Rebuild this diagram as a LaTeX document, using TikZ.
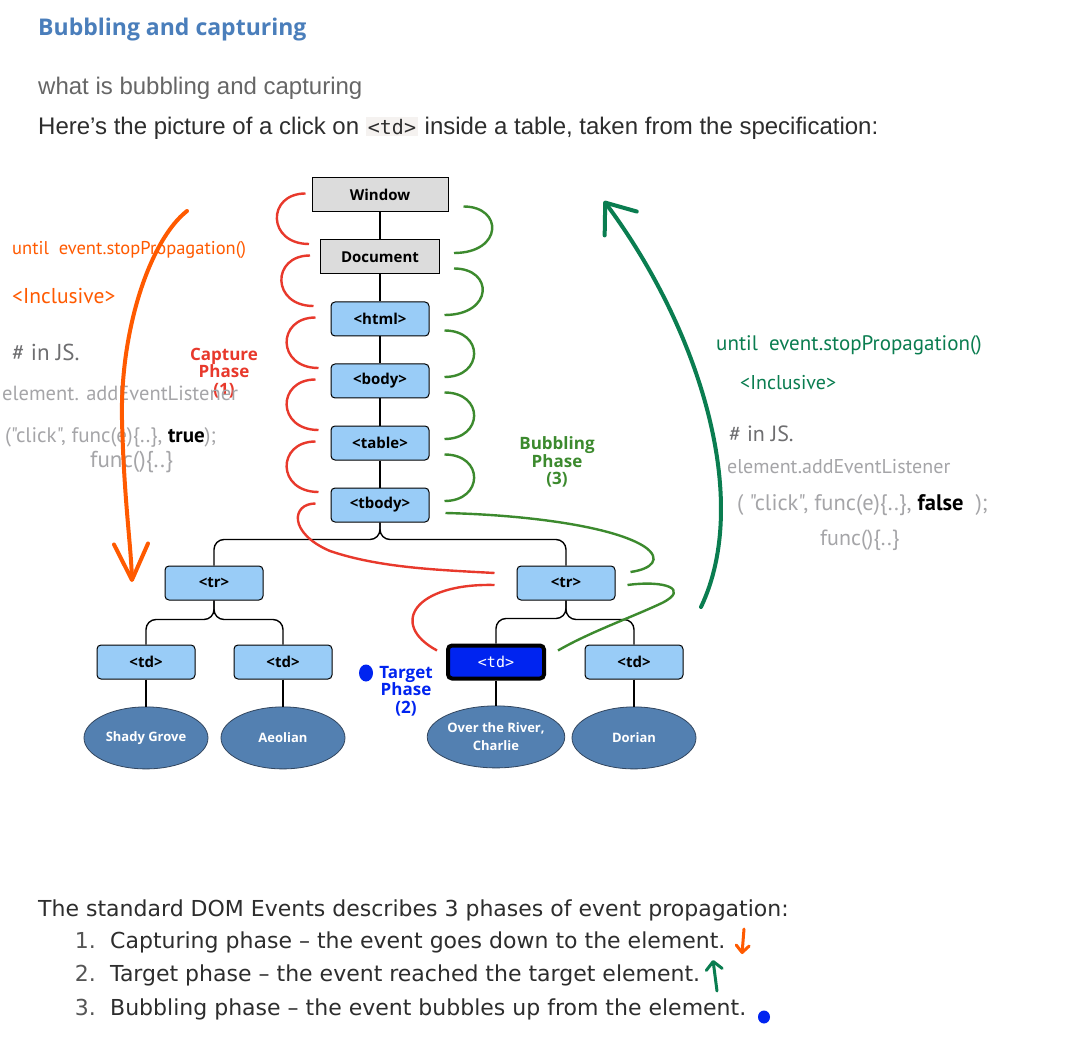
\documentclass[tikz,border=0pt]{standalone}
\usepackage{fontspec}
\setmainfont{Liberation Sans}
\setmonofont{DejaVu Sans Mono}
\newfontfamily\diagfont{Open Sans}
\newfontfamily\listfont{DejaVu Sans}
\newfontfamily\handfont{PT Sans}
\usetikzlibrary{positioning,shapes.geometric,arrows.meta}
\setlength{\fboxsep}{2pt}

\definecolor{titleblue}{RGB}{74,126,187}
\definecolor{subgray}{RGB}{102,102,102}
\definecolor{textdark}{RGB}{45,45,45}
\definecolor{numgray}{RGB}{85,85,85}
\definecolor{codebg}{RGB}{245,242,240}
\definecolor{boxgray}{RGB}{220,220,220}
\definecolor{boxblue}{RGB}{153,204,247}
\definecolor{leafblue}{RGB}{83,128,177}
\definecolor{leafline}{RGB}{50,70,95}
\definecolor{capred}{RGB}{232,57,44}
\definecolor{bubgreen}{RGB}{60,138,46}
\definecolor{targetblue}{RGB}{0,36,240}
\definecolor{penorange}{RGB}{255,90,0}
\definecolor{pengreen}{RGB}{10,125,80}
\definecolor{pengray}{RGB}{165,165,168}
\definecolor{pendark}{RGB}{110,110,112}

\begin{document}
\begin{tikzpicture}[%
        x=1pt, y=-1pt,
        node distance=27pt,
        framebox/.style={%
          draw, fill=boxgray, line width=1pt,
          minimum height=34pt, inner sep=0pt,
          font=\diagfont\bfseries\fontsize{15}{18}\selectfont
        },
        elem/.style={%
          framebox, fill=boxblue, rounded corners=4pt,
          minimum width=98pt
        },
        clicked/.style={%
          draw, line width=4pt, fill=targetblue, rounded corners=4pt,
          minimum width=96pt, minimum height=33pt, inner sep=0pt,
          text=white, font=\ttfamily\fontsize{15}{18}\selectfont
        },
        leaf/.style={%
          ellipse, draw=leafline, fill=leafblue, line width=0.8pt,
          minimum width=124pt, minimum height=62pt, inner sep=0pt,
          text=white, align=center,
          font=\diagfont\bfseries\fontsize{13}{18}\selectfont
        },
        link/.style={line width=1.4pt},
        branch/.style={draw, line width=1.4pt, rounded corners=10pt},
        capture/.style={capred, line width=2.4pt},
        bubble/.style={bubgreen, line width=2.4pt},
        phase/.style={align=center, inner sep=0pt,
          font=\diagfont\bfseries\fontsize{17}{17.5}\selectfont},
        tdot/.style={ellipse, fill=targetblue, inner sep=0pt},
        prose/.style={anchor=west, inner sep=0pt},
        listline/.style={prose, text=textdark, text height=16pt, text depth=4pt,
          font=\listfont\fontsize{22}{26}\selectfont},
        scrawl/.style={anchor=west, inner sep=0pt,
          font=\handfont\fontsize{#1}{#1}\selectfont},
        penline/.style={line width=#1, line cap=round, line join=round}
      ]
      \useasboundingbox[fill=white] (0,0) rectangle (1079,1048);

      % page text
      \node[prose, text=titleblue, font=\diagfont\bfseries\fontsize{23}{28}\selectfont] (title) at (38,30) {Bubbling and capturing};
      \node[prose, text=subgray, font=\fontsize{24}{28}\selectfont] (subtitle) at (38,88) {what is bubbling and capturing};
      \node[prose, text=textdark, font=\fontsize{24}{28}\selectfont] (intro) at (38,128) {Here’s the picture of a click on \colorbox{codebg}{\ttfamily\fontsize{20}{24}\selectfont <td>} inside a table, taken from the specification:};

      % the tree
      \node[framebox, minimum width=136pt] (window) at (380,195) {Window};
      \node[framebox, minimum width=119pt] (document) [below=of window] {Document};
      \node[elem] (html) [below=of document] {<html>};
      \node[elem] (body) [below=of html] {<body>};
      \node[elem] (table) [below=of body] {<table>};
      \node[elem] (tbody) [below=of table] {<tbody>};
      \node[elem] (trleft) [below=43pt of tbody, xshift=-166pt] {<tr>};
      \node[elem] (trright) [below=43pt of tbody, xshift=186pt] {<tr>};
      \node[elem] (tdone) [below=44pt of trleft, xshift=-68pt] {<td>};
      \node[elem] (tdtwo) [below=44pt of trleft, xshift=69pt] {<td>};
      \node[clicked] (tdclick) [below=43pt of trright, xshift=-70pt] {<td>};
      \node[elem] (tdfour) [below=44pt of trright, xshift=68pt] {<td>};
      \node[leaf] (shady) [below=27pt of tdone] {Shady Grove};
      \node[leaf] (aeolian) [below=27pt of tdtwo] {Aeolian};
      \node[leaf] (river) [below=25pt of tdclick] {Over the River,\\Charlie};
      \node[leaf] (dorian) [below=27pt of tdfour] {Dorian};

      \draw[link] (window) -- (document);
      \draw[link] (document) -- (html);
      \draw[link] (html) -- (body);
      \draw[link] (body) -- (table);
      \draw[link] (table) -- (tbody);
      \draw[branch] (tbody.south) |- ([yshift=26pt]trleft.north) -- (trleft.north);
      \draw[branch] (tbody.south) |- ([yshift=26pt]trright.north) -- (trright.north);
      \draw[branch] (trleft.south) |- ([yshift=25pt]tdone.north) -- (tdone.north);
      \draw[branch] (trleft.south) |- ([yshift=25pt]tdtwo.north) -- (tdtwo.north);
      \draw[branch] (trright.south) |- ([yshift=25pt]tdclick.north) -- (tdclick.north);
      \draw[branch] (trright.south) |- ([yshift=25pt]tdfour.north) -- (tdfour.north);
      \draw[link] (tdone) -- (shady);
      \draw[link] (tdtwo) -- (aeolian);
      \draw[link] (tdclick) -- (river);
      \draw[link] (tdfour) -- (dorian);

      % capture arcs
      \foreach \src/\dst/\offa/\offb in {window/document/-6pt/-11pt, document/html/-10pt/-17pt, html/body/-15pt/-12pt, body/table/-15pt/-12pt, table/tbody/-15pt/-12pt}
        \draw[capture] ([xshift=\offa,yshift=1.5pt]\src.west) .. controls +(-39pt,0pt) and +(-42pt,0pt) .. ([xshift=\offb,yshift=-4.5pt]\dst.north west);
      \draw[capture] ([xshift=-15pt,yshift=1.5pt]tbody.west) .. controls +(-24pt,0pt) and (288,533) .. (330,551) .. controls (380,568) and (440,570) .. ([xshift=-22pt,yshift=10pt]trright.west);
      \draw[capture] ([xshift=-22pt,yshift=-2pt]trright.west) .. controls (415,583) and (388,624) .. ([xshift=-9pt,yshift=-7pt]tdclick.north west);

      % bubbling arcs
      \foreach \src/\dst/\offa/\offb/\offc in {window/document/15pt/14pt/49pt, document/html/14pt/15pt/49pt, html/body/15pt/15pt/39pt, body/table/15pt/15pt/39pt, table/tbody/15pt/15pt/39pt}
        \draw[bubble] ([xshift=\offa,yshift=6pt]\src.south east) .. controls +(40pt,0pt) and +(\offc,0pt) .. ([xshift=\offb,yshift=4pt]\dst.east);
      \draw[bubble] ([xshift=16pt,yshift=-8pt]tbody.east) .. controls (530,515) and (615,527) .. (645,547) .. controls (662,559) and (652,569) .. ([xshift=15pt,yshift=11pt]trright.east);
      \draw[bubble] ([xshift=12pt,yshift=-2pt]trright.east) .. controls (665,580) and (690,589) .. (662,603) .. controls (630,618) and (590,632) .. ([xshift=12pt,yshift=-7pt]tdclick.north east);

      % phase labels
      \node[phase, text=capred] (capturelbl) at (224,373) {Capture\\Phase\\(1)};
      \node[phase, text=bubgreen] (bubblelbl) at (557,462) {Bubbling\\Phase\\(3)};
      \node[phase, text=targetblue] (targetlbl) at (406,691) {Target\\Phase\\(2)};
      \node[tdot, minimum width=14pt, minimum height=17pt] (targetdot) at (366,673) {};

      % notes, left
      \node[scrawl=18.5, text=penorange] (untilleft) at (12,250) {until\ \ event.stopPropagation()};
      \node[scrawl=21.5, text=penorange] (inclleft) at (12,296) {<Inclusive>};
      \node[scrawl=23, text=pendark] (jsleft) at (12,352) {\# in JS.};
      \node[scrawl=20.5, text=pengray] (listenleft) at (2,393) {element. addEventListener};
      \node[scrawl=21, text=pengray] (argsleft) at (5,437) {("click", func(e)\{..\}, \textbf{\textcolor{black}{true}});};
      \node[scrawl=23, text=pengray] (funcleft) at (90,462) {func()\{..\}};

      % notes, right
      \node[scrawl=21, text=pengreen] (untilright) at (716,345) {until\ \ event.stopPropagation()};
      \node[scrawl=20, text=pengreen] (inclright) at (740,383) {<Inclusive>};
      \node[scrawl=22, text=pendark] (jsright) at (729,434) {\# in JS.};
      \node[scrawl=20, text=pengray] (listenright) at (727,467) {element.addEventListener};
      \node[scrawl=22.5, text=pengray] (argsright) at (737,505) {(\ "click", func(e)\{..\},\ \textbf{\textcolor{black}{false}}\ \ );};
      \node[scrawl=22, text=pengray] (funcright) at (820,540) {func()\{..\}};

      % pen arrows
      \draw[penline=4pt, penorange, -{Straight Barb[length=36pt,width=34pt,round]}] (187,211) .. controls (150,240) and (120,330) .. (122,420) .. controls (124,500) and (131,545) .. (132,582);
      \draw[penline=4pt, pengreen, -{Straight Barb[length=26pt,width=40pt,round]}] (701,607) .. controls (752,500) and (700,330) .. (604,201);

      % list
      \node[listline] (phases) at (38,910) {The standard DOM Events describes 3 phases of event propagation:};
      \node[listline, anchor=east, text=numgray] (numone) at (96,942) {1.};
      \node[listline] (stepone) at (110,942) {Capturing phase – the event goes down to the element.};
      \node[listline, anchor=east, text=numgray] (numtwo) at (96,975) {2.};
      \node[listline] (steptwo) at (110,975) {Target phase – the event reached the target element.};
      \node[listline, anchor=east, text=numgray] (numthree) at (96,1009) {3.};
      \node[listline] (stepthree) at (110,1009) {Bubbling phase – the event bubbles up from the element.};
      \draw[penline=3pt, penorange, -{Straight Barb[length=7pt,width=13pt,round]}] (744,929) -- (742,954);
      \draw[penline=3pt, pengreen, -{Straight Barb[length=8pt,width=16pt,round]}] (717,991) -- (713,960);
      \node[tdot, minimum width=12pt, minimum height=13pt] (listdot) at (764,1017) {};
\end{tikzpicture}
\end{document}
